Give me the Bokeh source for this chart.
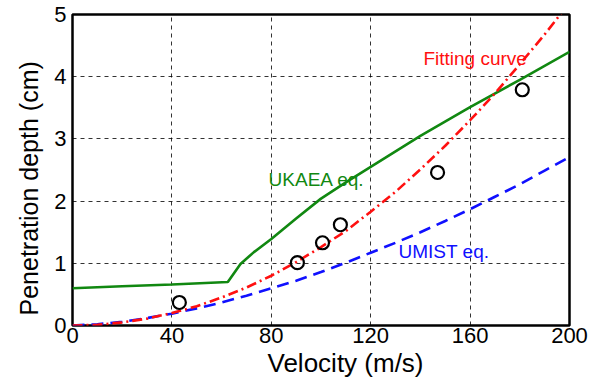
from bokeh.plotting import figure
from bokeh.embed import file_html
from bokeh.resources import INLINE
from bokeh.models import Range1d, FixedTicker, Title
from bokeh.core.properties import value

# measured points
exp_v = [43, 90.5, 100.6, 107.8, 146.9, 181]
exp_d = [0.37, 1.01, 1.33, 1.62, 2.46, 3.79]

# UKAEA equation (green)
ukaea_v = [0, 20, 40, 62.5, 67.6, 73, 80, 90, 100, 110, 120, 140, 160, 180, 200]
ukaea_d = [0.60, 0.63, 0.66, 0.70, 0.99, 1.18, 1.39, 1.72, 2.04, 2.30, 2.55, 3.05, 3.51, 3.95, 4.40]

# Fitting curve (red)
fit_v = [0, 10, 20, 30, 40, 50, 60, 70, 80, 90, 100, 110, 120, 130, 140, 150, 160, 170, 180, 190, 200]
fit_d = [0, 0.01, 0.05, 0.11, 0.20, 0.31, 0.45, 0.61, 0.80, 1.02, 1.26, 1.52, 1.83, 2.15, 2.51, 2.89, 3.30, 3.73, 4.20, 4.68, 5.19]

# UMIST equation (blue)
umist_v = [0, 10, 20, 30, 40, 50, 60, 70, 80, 90, 100, 110, 120, 130, 140, 150, 160, 170, 180, 190, 200]
umist_d = [0, 0.02, 0.06, 0.12, 0.19, 0.275, 0.37, 0.48, 0.60, 0.72, 0.86, 1.01, 1.17, 1.33, 1.50, 1.68, 1.87, 2.07, 2.27, 2.49, 2.71]

x_ticks = [0, 40, 80, 120, 160, 200]
y_ticks = [0, 1, 2, 3, 4, 5]

FONT = "Liberation Sans"

p = figure(width=600, height=381, output_backend="svg", toolbar_location=None,
           x_range=Range1d(0, 200), y_range=Range1d(0, 5),
           min_border_left=72, min_border_right=31, min_border_top=14, min_border_bottom=56)
p.background_fill_color = "white"
p.border_fill_color = "white"
p.outline_line_color = "black"
p.outline_line_width = 2.5

p.xaxis.ticker = FixedTicker(ticks=x_ticks)
p.yaxis.ticker = FixedTicker(ticks=y_ticks)
for ax in (p.xaxis[0], p.yaxis[0]):
    ax.axis_line_color = None
    ax.major_tick_line_color = None
    ax.minor_tick_line_color = None
    ax.major_tick_out = 0
    ax.major_tick_in = 0
    ax.minor_tick_out = 0
    ax.major_label_text_font = FONT
    ax.major_label_text_font_size = "22px"
    ax.major_label_text_color = "black"
p.xaxis.major_label_standoff = 2
p.yaxis.major_label_standoff = 6
p.yaxis.major_label_orientation = "horizontal"

# axis titles, positioned as in the reference
p.add_layout(Title(text="Velocity (m/s)", align="left", offset=195, standoff=0,
                   text_font=FONT, text_font_size="26px", text_font_style="normal",
                   text_color="black"), "below")
p.add_layout(Title(text="Penetration depth (cm)", align="left", offset=10, standoff=18,
                   text_font=FONT, text_font_size="25px", text_font_style="normal",
                   text_color="black"), "left")

for g in (p.xgrid[0], p.ygrid[0]):
    g.grid_line_color = "black"
    g.grid_line_alpha = 0.8
    g.grid_line_width = 1
    g.grid_line_dash = "4 4"

p.line(ukaea_v, ukaea_d, line_color="#118811", line_width=2.6)
p.line(umist_v, umist_d, line_color="#1010ff", line_width=2.6, line_dash="12 7")
p.line(fit_v, fit_d, line_color="#ff1010", line_width=2.6, line_dash="10 4 2 4")
p.scatter(exp_v, exp_d, marker="circle", size=13, fill_color=None,
          line_color="black", line_width=2.2)

p.text(x=[141.2], y=[4.29], text=["Fitting curve"], text_color="#ff1010",
       text_font=value(FONT), text_font_size="19px", text_baseline="alphabetic")
p.text(x=[78.9], y=[2.35], text=["UKAEA eq."], text_color="#118811",
       text_font=value(FONT), text_font_size="19px", text_baseline="alphabetic")
p.text(x=[131.2], y=[1.19], text=["UMIST eq."], text_color="#1010ff",
       text_font=value(FONT), text_font_size="19px", text_baseline="alphabetic")

open("out.html", "w").write(file_html(p, INLINE))
